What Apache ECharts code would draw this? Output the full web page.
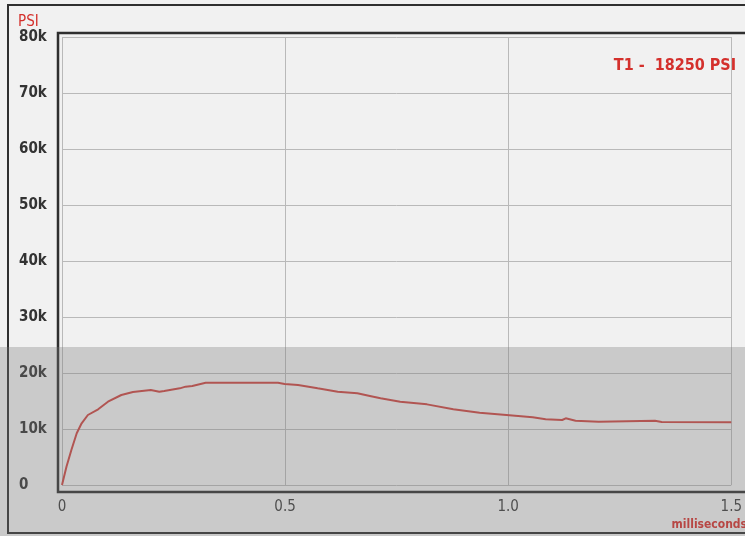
<!DOCTYPE html>
<html>
<head>
<meta charset="utf-8">
<script src="https://cdn.jsdelivr.net/npm/echarts@6/dist/echarts.min.js"></script>
<style>
  html, body { margin: 0; padding: 0; background: #f1f1f1; }
  #chart { width: 745px; height: 536px; }
</style>
</head>
<body>
<div id="chart"></div>
<script>
// ---- data ----
var timeMs = [0, 0.010, 0.021, 0.033, 0.044, 0.058, 0.081, 0.103, 0.133, 0.159, 0.199, 0.218, 0.229, 0.264, 0.277, 0.292, 0.322, 0.484, 0.499, 0.529, 0.573, 0.618, 0.662, 0.690, 0.714, 0.758, 0.818, 0.877, 0.936, 0.996, 1.055, 1.084, 1.121, 1.129, 1.151, 1.203, 1.329, 1.344, 1.5];
var psi    = [0, 3270, 6250, 9230, 11020, 12500, 13520, 14880, 16070, 16600, 16960, 16670, 16800, 17260, 17560, 17680, 18250, 18250, 18040, 17860, 17260, 16670, 16370, 15900, 15480, 14880, 14400, 13520, 12920, 12500, 12090, 11730, 11610, 11910, 11490, 11310, 11490, 11250, 11190];
var xTickValues = [0, 0.5, 1.0, 1.5];
var xTickLabels = ['0', '0.5', '1.0', '1.5'];
var yTickLabels = ['0', '10k', '20k', '30k', '40k', '50k', '60k', '70k', '80k'];
var yUnit = 'PSI';
var xUnit = 'milliseconds';
var peakLabel = 'T1 -  18250 PSI';

var seriesData = timeMs.map(function (t, i) { return [t, psi[i]]; });

var chart = echarts.init(document.getElementById('chart'), null, { renderer: 'canvas' });
var FONT = '"Liberation Sans Narrow", "DejaVu Sans Condensed", "Liberation Sans", sans-serif';
var RED = '#d4302c';
var FRAME = '#2f2f2f';

chart.setOption({
  backgroundColor: '#f1f1f1',
  animation: false,
  grid: { left: 62, right: 8, top: 37, bottom: 51, containLabel: false },
  xAxis: {
    type: 'value', min: 0, max: 1.5, interval: 0.5, offset: 7,
    axisLine: { show: false }, axisTick: { show: false },
    splitLine: { show: true, lineStyle: { color: '#b9b9b9', width: 1 } },
    axisLabel: {
      margin: 8, color: '#3a3a3a', fontSize: 15, fontFamily: FONT,
      formatter: function (v) {
        var i = xTickValues.findIndex(function (x) { return Math.abs(x - v) < 1e-9; });
        return i >= 0 ? xTickLabels[i] : '';
      }
    }
  },
  yAxis: {
    type: 'value', min: 0, max: 80000, interval: 10000,
    axisLine: { show: false }, axisTick: { show: false },
    splitLine: { show: true, lineStyle: { color: '#b9b9b9', width: 1 } },
    axisLabel: {
      margin: 43, align: 'left', color: '#333', fontSize: 15, fontWeight: 'bold', fontFamily: FONT,
      formatter: function (v) { return yTickLabels[Math.round(v / 10000)] || ''; }
    }
  },
  series: [{
    type: 'line', data: seriesData, showSymbol: false, smooth: false,
    lineStyle: { color: '#cc4540', width: 2 }, z: 5
  }],
  graphic: [
    // outer frame
    { type: 'rect', shape: { x: 8, y: 5, width: 745, height: 528 }, style: { fill: null, stroke: FRAME, lineWidth: 2 }, z: 10, silent: true },
    // plot frame: left, top, bottom
    { type: 'polyline', shape: { points: [[760, 33], [58, 33], [58, 492], [760, 492]] }, style: { fill: null, stroke: FRAME, lineWidth: 2.5 }, z: 10, silent: true },
    // texts
    { type: 'text', left: 18, top: 15, style: { text: yUnit, fill: RED, fontSize: 15, fontFamily: FONT }, z: 11 },
    { type: 'text', right: 9, top: 58, style: { text: peakLabel, fill: RED, fontSize: 16, fontWeight: 'bold', fontFamily: FONT }, z: 11 },
    { type: 'text', right: -2, top: 519, style: { text: xUnit, fill: RED, fontSize: 12, fontWeight: 'bold', fontFamily: FONT }, z: 11 },
    // translucent grey band present across the lower part of the scanned picture
    { type: 'rect', shape: { x: 0, y: 347, width: 745, height: 189 }, style: { fill: 'rgba(120,120,120,0.32)' }, z: 20, silent: true }
  ]
});
</script>
</body>
</html>
